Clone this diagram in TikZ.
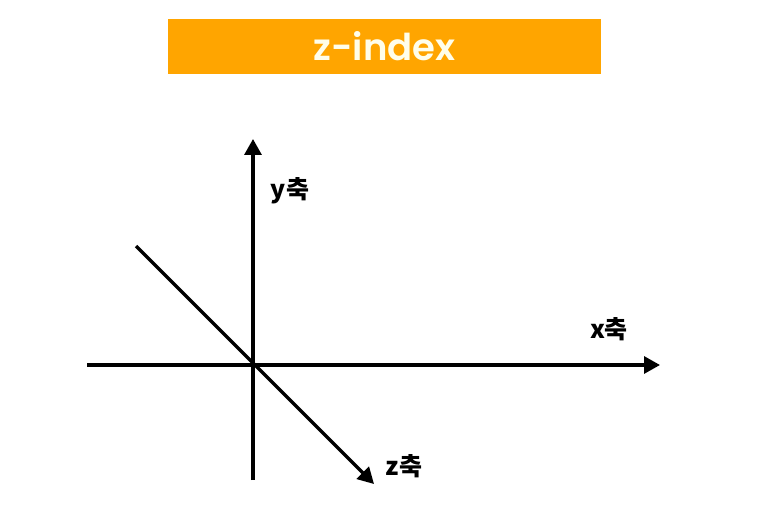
\documentclass[tikz,border=0pt]{standalone}
\usepackage{fontspec}
\setmainfont{Poppins}
\newfontfamily\titlefont{Poppins}[UprightFont={* SemiBold}]
\newfontfamily\cjk{Noto Sans CJK KR}
\usetikzlibrary{arrows.meta}
\definecolor{titleorange}{HTML}{FFA500}
\tikzset{
  axis/.style={line width=3.2pt, -{Triangle[length=16pt,width=17pt]}},
  axislabel/.style={font=\cjk\bfseries\fontsize{25}{28}\selectfont, inner sep=0pt},
}
\begin{document}
\begin{tikzpicture}[x=1pt,y=-1pt]
\useasboundingbox (0,0) rectangle (766,529);
\node[fill=titleorange, minimum width=433pt, minimum height=55pt, inner sep=0pt, text=white!92!yellow,
      font=\titlefont\fontsize{37}{40}\selectfont] (title) at (384.5,46.5) {z-index};
\coordinate (o) at (253,365);
\coordinate (xs) at (87,365);
\coordinate (xe) at (660,365);
\coordinate (ys) at (253,480);
\coordinate (ye) at (253,139);
\coordinate (zs) at (136,246);
\coordinate (ze) at (374,484);
\draw[axis] (xs) -- (xe);
\draw[axis] (ys) -- (ye);
\draw[axis] (zs) -- (ze);
\node[axislabel] (ylab) at (290,191) {y축};
\node[axislabel] (xlab) at (609,329) {x축};
\node[axislabel] (zlab) at (404,466) {z축};
\end{tikzpicture}
\end{document}
